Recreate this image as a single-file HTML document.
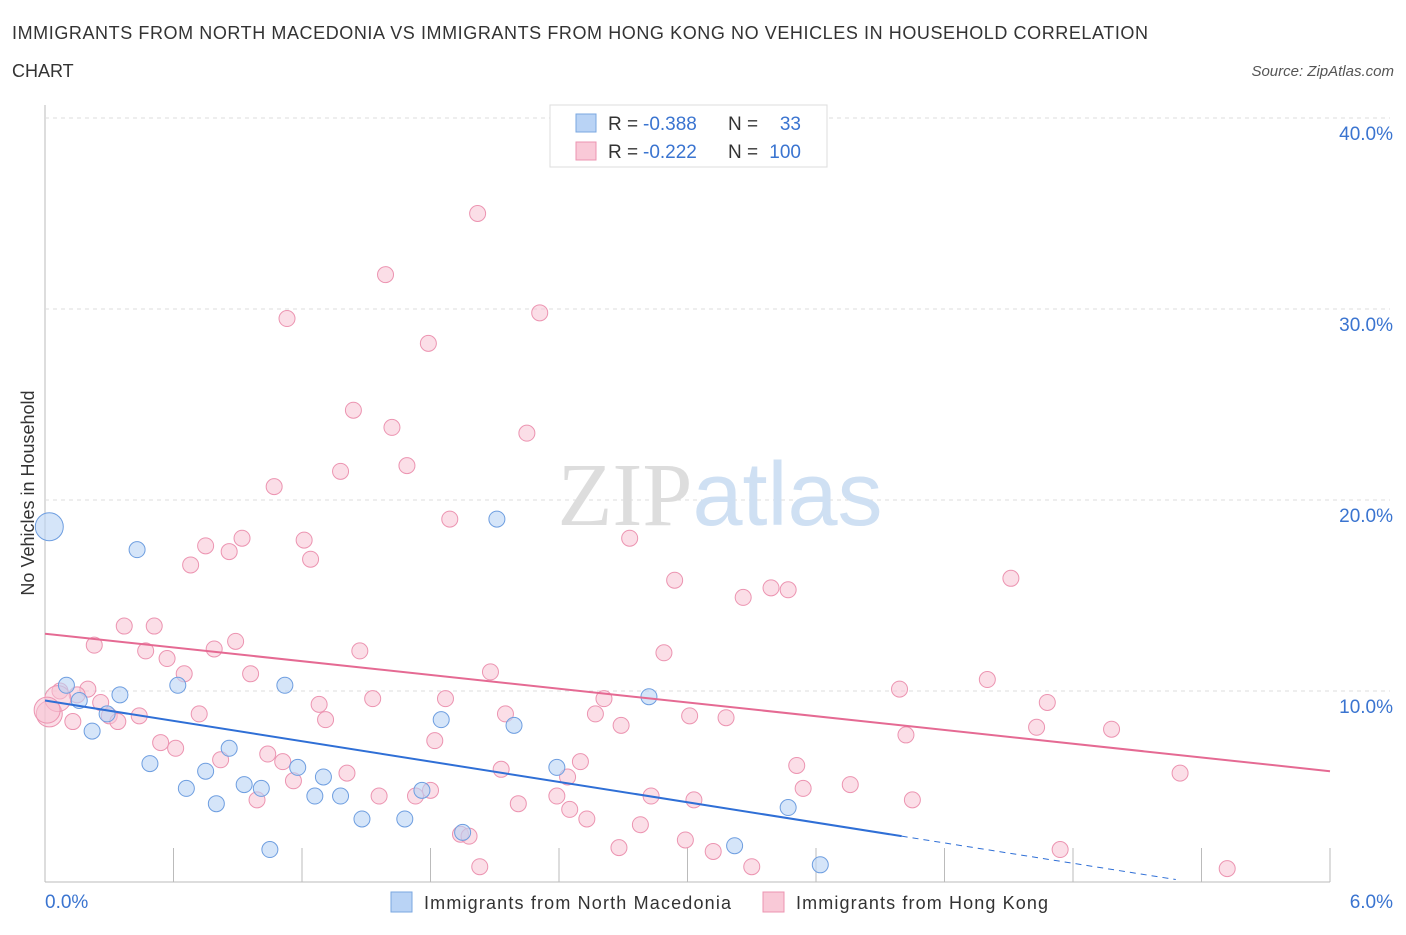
<!DOCTYPE html>
<html><head><meta charset="utf-8"><style>
body{margin:0;background:#fff;font-family:"Liberation Sans",sans-serif;}
</style></head><body>
<svg id="chart" width="1406" height="930" xmlns="http://www.w3.org/2000/svg" font-family="Liberation Sans, sans-serif">
<text x="12" y="39" font-size="18" fill="#333" textLength="1136">IMMIGRANTS FROM NORTH MACEDONIA VS IMMIGRANTS FROM HONG KONG NO VEHICLES IN HOUSEHOLD CORRELATION</text>
<text x="12" y="77" font-size="18" fill="#333">CHART</text>
<text x="1394" y="76" font-size="15" fill="#555" font-style="italic" text-anchor="end">Source: ZipAtlas.com</text>
<text transform="translate(34,493) rotate(-90)" font-size="18" fill="#333" text-anchor="middle">No Vehicles in Household</text>
<g id="grid"></g>
<text x="720" y="525" font-size="90" text-anchor="middle"><tspan fill="#ddd" font-family="Liberation Serif, serif">ZIP</tspan><tspan fill="#cfe0f3">atlas</tspan></text>
<g id="marks"></g>
<g>
<rect x="550" y="105" width="277" height="62" fill="#fff" stroke="#ddd"/>
<rect x="576" y="114" width="20" height="18" fill="#b9d3f5" stroke="#7aa7e0"/>
<rect x="576" y="142" width="20" height="18" fill="#f9c9d7" stroke="#ec94b1"/>
<text x="608" y="130" font-size="19" fill="#333">R =</text>
<text x="643" y="130" font-size="19" fill="#3a74d0">-0.388</text>
<text x="728" y="130" font-size="19" fill="#333">N =</text>
<text x="801" y="130" font-size="19" fill="#3a74d0" text-anchor="end">33</text>
<text x="608" y="158" font-size="19" fill="#333">R =</text>
<text x="643" y="158" font-size="19" fill="#3a74d0">-0.222</text>
<text x="728" y="158" font-size="19" fill="#333">N =</text>
<text x="801" y="158" font-size="19" fill="#3a74d0" text-anchor="end">100</text>
</g>
<g>
<rect x="391" y="892" width="21" height="20" fill="#b9d3f5" stroke="#7aa7e0"/>
<text x="424" y="909" font-size="18" fill="#333" textLength="307">Immigrants from North Macedonia</text>
<rect x="763" y="892" width="21" height="20" fill="#f9c9d7" stroke="#ec94b1"/>
<text x="796" y="909" font-size="18" fill="#333" textLength="252">Immigrants from Hong Kong</text>
</g>
</svg>
<script>
const yTicks=[10,20,30,40];
const xTickLabels=["0.0%","6.0%"];
const blueX=[0.02,0.43,2.11,0.10,0.16,0.35,0.29,0.62,1.12,0.22,0.49,0.86,0.66,0.75,0.93,1.01,0.80,1.18,1.30,1.26,1.38,1.48,1.68,1.76,1.85,2.19,1.95,2.39,2.82,3.22,3.47,3.62,1.05];
const blueY=[18.6,17.4,19.0,10.3,9.5,9.8,8.8,10.3,10.3,7.9,6.2,7.0,4.9,5.8,5.1,4.9,4.1,6.0,5.5,4.5,4.5,3.3,3.3,4.8,8.5,8.2,2.6,6.0,9.7,1.9,3.9,0.9,1.7];
const pinkX=[2.02,1.59,1.13,2.31,1.79,1.44,1.62,2.25,1.69,1.38,1.07,1.89,2.73,0.92,1.21,0.75,0.86,0.68,1.24,2.94,4.51,3.39,3.47,3.26,0.37,0.51,0.23,0.47,0.89,0.79,0.57,1.47,2.89,0.65,0.96,2.08,0.07,0.20,0.15,0.26,1.87,1.53,2.61,3.99,4.40,4.68,1.28,0.72,0.44,0.30,0.34,1.31,2.15,2.57,3.01,3.18,2.69,4.63,4.98,4.02,0.02,0.13,0.54,0.61,1.04,1.82,1.11,0.82,2.13,2.50,3.51,5.30,1.41,1.16,2.44,3.54,3.76,4.05,1.56,1.73,0.99,2.21,2.39,2.83,3.03,2.45,2.53,2.78,1.94,1.98,2.99,3.12,2.68,4.74,3.30,2.03,5.52,1.80,0.06,0.01];
const pinkY=[35.0,31.8,29.5,29.8,28.2,24.7,23.8,23.5,21.8,21.5,20.7,19.0,18.0,18.0,17.9,17.6,17.3,16.6,16.9,15.8,15.9,15.4,15.3,14.9,13.4,13.4,12.4,12.1,12.6,12.2,11.7,12.1,12.0,10.9,10.9,11.0,10.0,10.1,9.8,9.4,9.6,9.6,9.6,10.1,10.6,9.4,9.3,8.8,8.7,8.7,8.4,8.5,8.8,8.8,8.7,8.6,8.2,8.1,8.0,7.7,8.8,8.4,7.3,7.0,6.7,7.4,6.3,6.4,5.9,6.3,6.1,5.7,5.7,5.3,5.5,4.9,5.1,4.3,4.5,4.5,4.3,4.1,4.5,4.5,4.3,3.8,3.3,3.0,2.5,2.4,2.2,1.6,1.8,1.7,0.8,0.8,0.7,4.8,9.6,9.0];
const blueTrend=[9.5,2.4],pinkTrend=[13.0,5.8];
const X0=45,X1=1330,Y0=882,Yp=19.1;
const sx=v=>X0+v/6*(X1-X0), sy=v=>Y0-v*Yp;
const ns="http://www.w3.org/2000/svg";
const grid=document.getElementById('grid'), marks=document.getElementById('marks');
function mk(tag,attrs,parent){const e=document.createElementNS(ns,tag);for(const k in attrs)e.setAttribute(k,attrs[k]);parent.appendChild(e);return e;}
let ax=mk('line',{x1:X0,y1:105,x2:X0,y2:Y0,stroke:'#bbb'},grid);


let bx=mk('line',{x1:X0,y1:Y0,x2:X1,y2:Y0,stroke:'#bbb'},grid);


yTicks.forEach(t=>{
 let l=mk('line',{x1:X0,y1:sy(t),x2:1390,y2:sy(t),stroke:'#ddd','stroke-dasharray':'4,4'},grid);
 
 
 let tx=mk('text',{x:1393,y:sy(t)+22,'font-size':19,fill:'#3a74d0','text-anchor':'end'},grid);
 tx.textContent=t.toFixed(1)+'%';
 
 
});
for(let i=0;i<=10;i++){
 let l=mk('line',{x1:sx(i*0.6),y1:Y0,x2:sx(i*0.6),y2:Y0-34,stroke:'#bbb'},grid);
 
 
}
[[0,'start',45],[1,'end',1393]].forEach(([i,a,x])=>{
 let t=mk('text',{x:x,y:908,'font-size':19,fill:'#3a74d0','text-anchor':a},grid);
 t.textContent=xTickLabels[i];
 
 
});
pinkX.forEach((x,i)=>{
 let c=mk('circle',{cx:sx(x),cy:sy(pinkY[i]),r:(i>=98||i==60)?13:8,fill:'#f7c3d3','fill-opacity':0.55,stroke:'#ec94b1','stroke-width':1},marks);
 
 
});
blueX.forEach((x,i)=>{
 let c=mk('circle',{cx:sx(x),cy:sy(blueY[i]),r:i==0?14:8,fill:'#b9d3f5','fill-opacity':0.6,stroke:'#6e9ee0','stroke-width':1},marks);
 
 
});
const bEnd=4.0, bFar=5.28;
const by=x=>blueTrend[0]+(blueTrend[1]-blueTrend[0])*x/bEnd;
let bl=mk('line',{x1:sx(0),y1:sy(by(0)),x2:sx(bEnd),y2:sy(by(bEnd)),stroke:'#2f6fd6','stroke-width':2},marks);


let bd=mk('line',{x1:sx(bEnd),y1:sy(by(bEnd)),x2:sx(bFar),y2:sy(Math.max(0,by(bFar))),stroke:'#2f6fd6','stroke-width':1,'stroke-dasharray':'6,5'},marks);


let pl=mk('line',{x1:sx(0),y1:sy(pinkTrend[0]),x2:sx(6),y2:sy(pinkTrend[1]),stroke:'#e56a93','stroke-width':2},marks);


</script>
</body></html>
